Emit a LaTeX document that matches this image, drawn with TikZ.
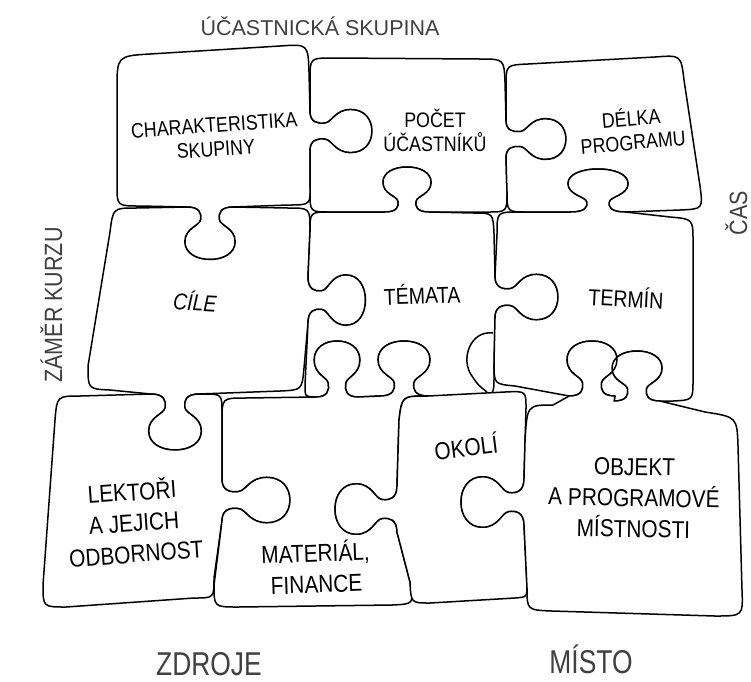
\documentclass[tikz,border=0pt]{standalone}
\usepackage{fontspec}
\setmainfont{Liberation Sans}
\newfontfamily\condfont{Liberation Sans}[FakeStretch=0.85]
\newfontfamily\sidefont{Liberation Sans}[FakeStretch=0.86]
\newfontfamily\titlefont{Liberation Sans}[FakeStretch=1.0]
\newfontfamily\bigsidefont{Liberation Sans}[FakeStretch=0.8]
% knob: centre (#1,#2), tangent vector (#3,#4), normal vector (#5,#6)
\newcommand\knob[6]{%
 -- ({#1-22*(#3)},{#2-22*(#4)})
 .. controls ({#1-10*(#3)},{#2-10*(#4)}) and ({#1-8*(#3)+6*(#5)},{#2-8*(#4)+6*(#6)})
 .. ({#1-9*(#3)+12*(#5)},{#2-9*(#4)+12*(#6)})
 .. controls ({#1-10*(#3)+18*(#5)},{#2-10*(#4)+18*(#6)}) and ({#1-24*(#3)+20*(#5)},{#2-24*(#4)+20*(#6)})
 .. ({#1-24*(#3)+33*(#5)},{#2-24*(#4)+33*(#6)})
 .. controls ({#1-24*(#3)+44*(#5)},{#2-24*(#4)+44*(#6)}) and ({#1-13*(#3)+50*(#5)},{#2-13*(#4)+50*(#6)})
 .. ({#1+50*(#5)},{#2+50*(#6)})
 .. controls ({#1+13*(#3)+50*(#5)},{#2+13*(#4)+50*(#6)}) and ({#1+24*(#3)+44*(#5)},{#2+24*(#4)+44*(#6)})
 .. ({#1+24*(#3)+33*(#5)},{#2+24*(#4)+33*(#6)})
 .. controls ({#1+24*(#3)+20*(#5)},{#2+24*(#4)+20*(#6)}) and ({#1+10*(#3)+18*(#5)},{#2+10*(#4)+18*(#6)})
 .. ({#1+9*(#3)+12*(#5)},{#2+9*(#4)+12*(#6)})
 .. controls ({#1+8*(#3)+6*(#5)},{#2+8*(#4)+6*(#6)}) and ({#1+10*(#3)},{#2+10*(#4)})
 .. ({#1+22*(#3)},{#2+22*(#4)})}
\begin{document}
\begin{tikzpicture}[x=1pt,y=-1pt,
  piece/.style={draw=black, line width=1.5pt, fill=white, line join=round},
  toplbl/.style={font=\condfont\fontsize{21}{24}\selectfont, align=center, inner sep=0pt},
  midlbl/.style={font=\condfont\fontsize{23}{26}\selectfont, align=center, inner sep=0pt},
  botlbl/.style={font=\condfont\fontsize{24.5}{31}\selectfont, align=center, inner sep=0pt},
  outlbl/.style={font=\sidefont\fontsize{25}{28}\selectfont, text=black!75, inner sep=0pt},
  ttllbl/.style={font=\titlefont\fontsize{21.5}{24}\selectfont, text=black!75, inner sep=0pt},
  biglbl/.style={font=\bigsidefont\fontsize{33}{36}\selectfont, text=black!75, inner sep=0pt}]
\useasboundingbox (0,0) rectangle (751,681);
\fill[white] (0,0) rectangle (751,681);

% CHARAKTERISTIKA SKUPINY
\draw[piece] (117,90) .. controls (117,56) .. (150,54) -- (280,46) .. controls (308,44) .. (309,72)
 \knob{310}{131}{0}{0.9}{1.24}{0}
 -- (310,182) .. controls (311,205) .. (288,205)
 \knob{210}{207}{-1.05}{0}{0}{1.05}
 -- (140,206) .. controls (117,206) .. (117,185) -- cycle;
% POCET UCASTNIKU
\draw[piece] (310,80) .. controls (310,58) .. (332,58) -- (480,59) .. controls (504,59) .. (505,82)
 \knob{506}{139}{0}{0.85}{1.2}{0}
 -- (507,192) .. controls (507,212) .. (487,212)
 \knob{407}{212}{-1.0}{0}{0}{-0.9}
 -- (330,212) .. controls (310,212) .. (310,192)
 \knob{310}{131}{0}{-0.9}{1.24}{0}
 -- cycle;
% DELKA PROGRAMU
\draw[piece] (506,86) .. controls (506,65) .. (528,64) -- (655,57) .. controls (681,55) .. (684,80)
 -- (700,186) .. controls (703,209) .. (680,210)
 \knob{598}{212}{-1.25}{0}{0}{-0.86}
 -- (528,212) .. controls (507,212) .. (507,192)
 \knob{506}{139}{0}{-0.85}{1.2}{0}
 -- cycle;
% CILE
\draw[piece] (110,232) .. controls (113,208) .. (136,208)
 \knob{210}{207}{1.05}{0}{0}{1.05}
 -- (288,208) .. controls (310,208) .. (310,230)
 \knob{308}{300}{0}{1.05}{1.15}{0}
 -- (304,368) .. controls (302,390) .. (280,391)
 \knob{175}{394}{-1.1}{0}{0}{1.12}
 -- (110,390) .. controls (88,389) .. (88,366) -- cycle;
% TEMATA
\draw[piece] (310,232) .. controls (310,212) .. (330,212)
 \knob{407}{212}{1.0}{0}{0}{-0.9}
 -- (474,213) .. controls (493,213) .. (494,234)
 \knob{495}{297}{0}{0.95}{1.26}{0}
 -- (494,376) .. controls (494,396) .. (474,396)
 \knob{404}{396}{-1.08}{0}{0}{-1.1}
 \knob{337}{397}{-0.95}{0}{0}{-1.12}
 .. controls (305,397) .. (305,385)
 \knob{308}{300}{0}{-1.05}{1.15}{0}
 -- cycle;
% TERMIN
\draw[piece] (497,234) .. controls (497,212) .. (518,212)
 \knob{598}{212}{1.25}{0}{0}{-0.86}
 -- (670,217) .. controls (693,219) .. (693,241)
 -- (693,380) .. controls (693,400) .. (673,401)
 \knob{637}{401}{-1.04}{0}{0}{-1.0}
 \knob{592}{396}{-1.04}{0}{0}{-1.1}
 -- (515,386) .. controls (494,384) .. (494,363)
 \knob{495}{297}{0}{-0.95}{1.26}{0}
 -- cycle;
% LEKTORI
\draw[piece] (55,420) .. controls (57,396) .. (80,396)
 \knob{175}{394}{1.1}{0}{0}{1.12}
 -- (203,394) .. controls (222,394) .. (222,413)
 \knob{222}{500}{0}{0.95}{1.36}{0}
 -- (214,578) .. controls (214,598) .. (194,598)
 -- (66,607) .. controls (43,607) .. (43,585) -- cycle;
% MATERIAL, FINANCE
\draw[piece] (222,421) .. controls (222,398) .. (245,398)
 \knob{337}{397}{0.95}{0}{0}{-1.12}
 \knob{404}{396}{1.08}{0}{0}{-1.1}
 .. controls (402,396) .. (399,420)
 \knob{397}{509}{0}{1.05}{-1.24}{0}
 -- (410,582) .. controls (414,604) .. (392,605)
 -- (238,607) .. controls (214,607) .. (214,585)
 \knob{222}{500}{0}{-0.95}{1.36}{0}
 -- cycle;
% OKOLI
\draw[piece] (399,420) .. controls (402,396) .. (428,396) -- (505,392) .. controls (526,391) .. (526,408)
 \knob{524}{502}{0}{1.05}{-1.26}{0}
 -- (527,585) .. controls (527,597) .. (515,598)
 -- (430,603) .. controls (411,603) .. (410,582)
 \knob{397}{509}{0}{-1.05}{-1.24}{0}
 -- cycle;
% OBJEKT
\draw[piece] (525,442) .. controls (527,405) .. (553,405)
 \knob{592}{396}{1.04}{0}{0}{-1.1}
 \knob{637}{401}{1.04}{0}{0}{-1.0}
 -- (705,412) .. controls (737,417) .. (738,446)
 -- (742,590) .. controls (743,616) .. (715,616)
 -- (552,611) .. controls (527,610) .. (527,588)
 \knob{524}{502}{0}{-1.05}{-1.26}{0}
 -- cycle;
% partly hidden knob under TERMIN
\draw[line width=1.5pt] (493,333) .. controls (470,330) and (460,360) .. (472,376) .. controls (478,385) .. (487,392);

% piece texts
\node[toplbl, rotate=4] (tChar) at (215,137) {CHARAKTERISTIKA\\SKUPINY};
\node[toplbl] (tPocet) at (435,130) {POČET\\ÚČASTNÍKŮ};
\node[toplbl, rotate=5] (tDelka) at (632,129) {DÉLKA\\PROGRAMU};
\node[midlbl, rotate=-3] (tCile) at (195,301) {\itshape CÍLE};
\node[midlbl, rotate=2] (tTemata) at (422,294) {TÉMATA};
\node[midlbl, rotate=-3] (tTermin) at (626,297) {TERMÍN};
\node[botlbl, rotate=4] (tLektori) at (134,521) {LEKTOŘI\\A JEJICH\\ODBORNOST};
\node[botlbl, rotate=2] (tMaterial) at (316,567) {MATERIÁL,\\FINANCE};
\node[botlbl, rotate=7] (tOkoli) at (466,446) {OKOLÍ};
\node[botlbl, rotate=-1] (tObjekt) at (634,498) {OBJEKT\\A PROGRAMOVÉ\\MÍSTNOSTI};

% outer labels
\node[ttllbl, anchor=base] (tTitle) at (320,35) {ÚČASTNICKÁ SKUPINA};
\node[outlbl, rotate=90, anchor=base] (tZamer) at (62,305) {ZÁMĚR KURZU};
\node[outlbl, rotate=90, anchor=base] (tCas) at (747,213) {ČAS};
\node[biglbl, anchor=base] (tZdroje) at (209,675) {ZDROJE};
\node[biglbl, anchor=base] (tMisto) at (591,673) {MÍSTO};
\end{tikzpicture}
\end{document}
